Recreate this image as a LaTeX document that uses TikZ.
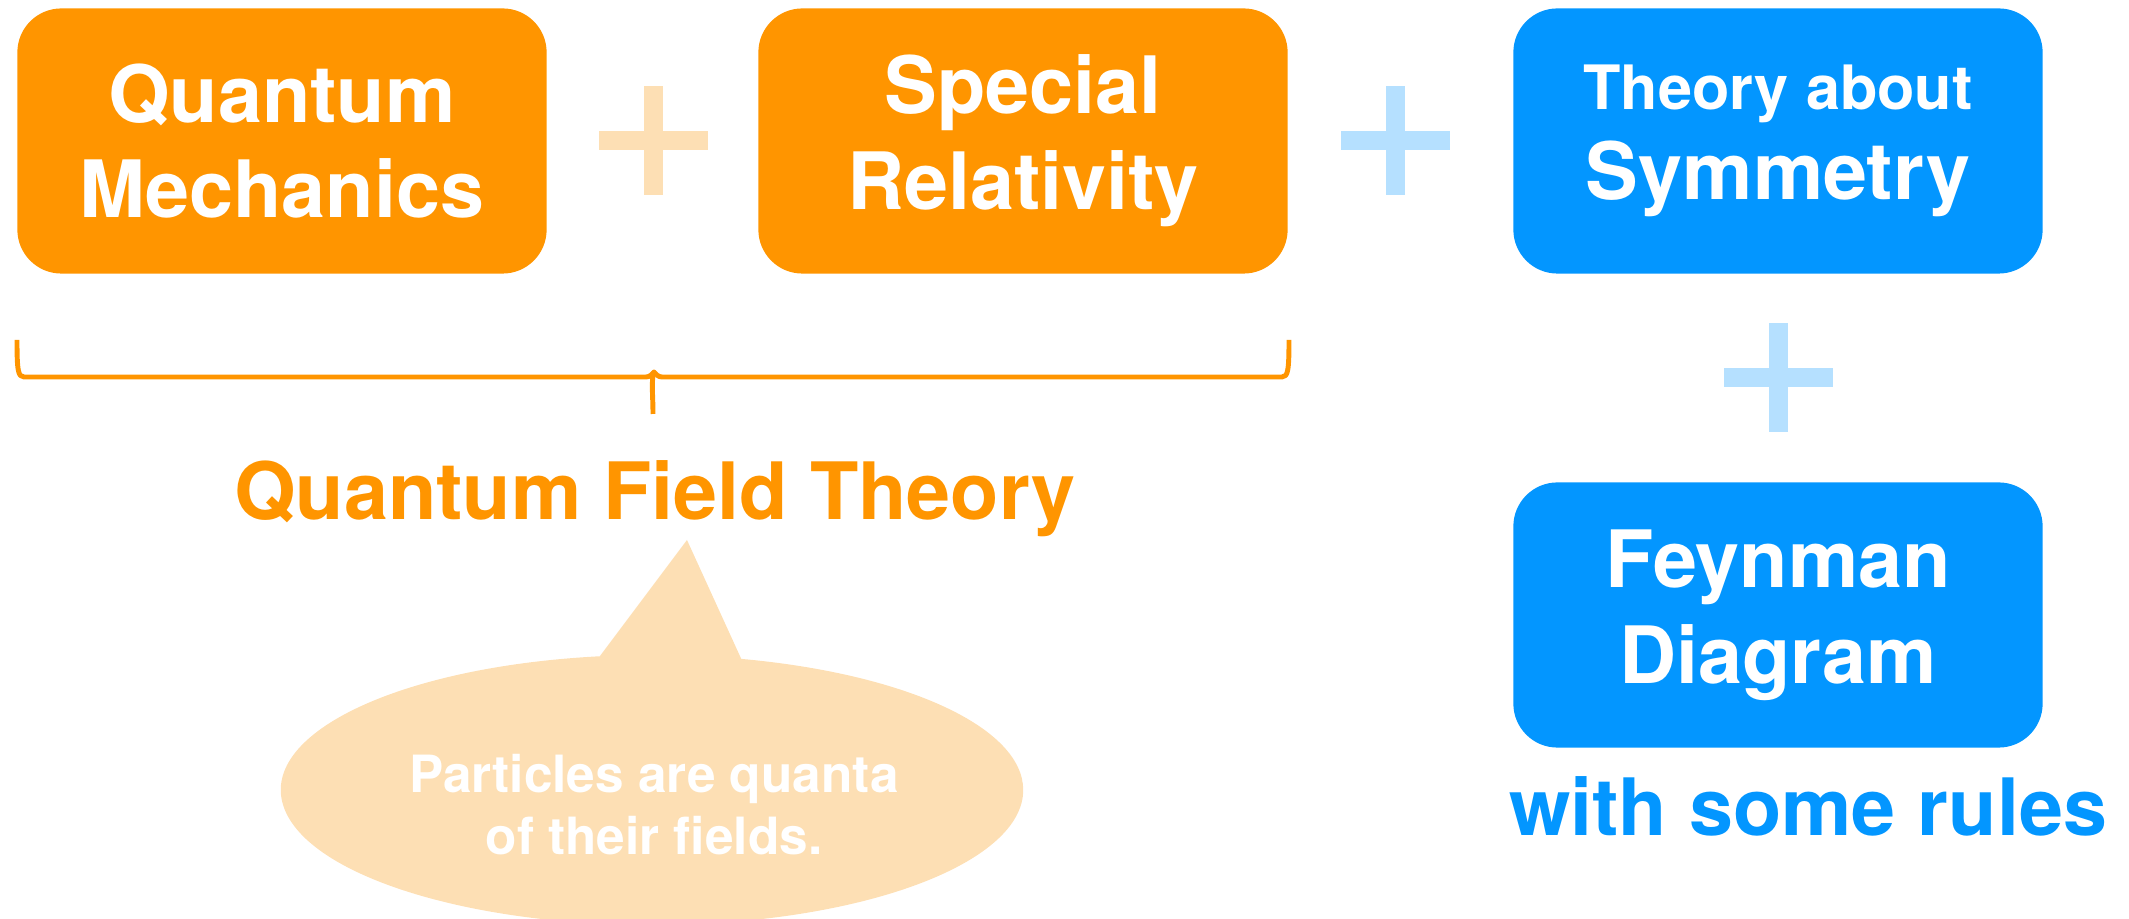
\documentclass[tikz,border=0pt]{standalone}
\usepackage{fontspec}
\setmainfont{TeX Gyre Heros}
\usepackage{tikz}
\usetikzlibrary{shapes.callouts}

\definecolor{qforange}{HTML}{FF9500}
\definecolor{lightorange}{HTML}{FDDFB4}
\definecolor{qfblue}{HTML}{0396FF}
\definecolor{lightblue}{HTML}{B5E0FF}

\begin{document}
\begin{tikzpicture}[
    x=0.01cm, y=-0.01cm,
    box/.style={rounded corners=0.44cm, minimum width=5.29cm, minimum height=2.65cm, inner sep=0pt,
      align=center, text=white, font=\bfseries\fontsize{22.5}{27.2}\selectfont},
    obox/.style={box, fill=qforange},
    bbox/.style={box, fill=qfblue},
    bigtext/.style={inner sep=0pt, font=\bfseries\fontsize{22.5}{27.2}\selectfont},
  ]
  \useasboundingbox (0,0) rectangle (2129,919);

  \node[obox] (QM) at (282,141) {Quantum\\Mechanics};
  \node[obox] (SR) at (1023,141) {Special\\Relativity};
  \node[bbox, font=\bfseries\fontsize{22.5}{25.5}\selectfont] (Sym) at (1778,141)
    {{\fontsize{17.4}{25.5}\selectfont Theory about}\\Symmetry};
  \node[bbox] (FD) at (1778,615) {Feynman\\Diagram};

  % plus signs
  \foreach \px/\py/\pc in {653/141/lightorange, 1395/141/lightblue, 1778/378/lightblue} {
    \fill[\pc] (\px-54.5,\py-9.5) rectangle (\px+54.5,\py+9.5);
    \fill[\pc] (\px-9.5,\py-54.5) rectangle (\px+9.5,\py+54.5);
  }

  % brace under the two orange boxes
  \draw[qforange, line width=1.4pt, line join=round]
    (17,340) .. controls (17,370) and (18,377) .. (24,377) -- (646,377)
    .. controls (650,377) and (652,374) .. (654,372)
    .. controls (656,374) and (658,377) .. (662,377) -- (1282,377)
    .. controls (1288,377) and (1289,370) .. (1289,340);
  \draw[qforange, line width=1.4pt] (654,372) .. controls (651,380) and (653,395) .. (653,414);

  \node[bigtext, text=qforange] (QFT) at (655,499) {Quantum Field Theory};

  \node[ellipse callout, fill=lightorange, minimum width=7.42cm, minimum height=2.7cm, inner sep=0pt,
    callout absolute pointer={(687,540)}, callout pointer arc=22] (bubble) at (652,790) {};
  \node[align=center, inner sep=0pt, text=white, font=\bfseries\fontsize{14.6}{17.6}\selectfont]
    (bubbletext) at (654,805) {Particles are quanta\\of their fields.};

  \node[bigtext, text=qfblue] (rules) at (1808,806) {with some rules};
\end{tikzpicture}
\end{document}
